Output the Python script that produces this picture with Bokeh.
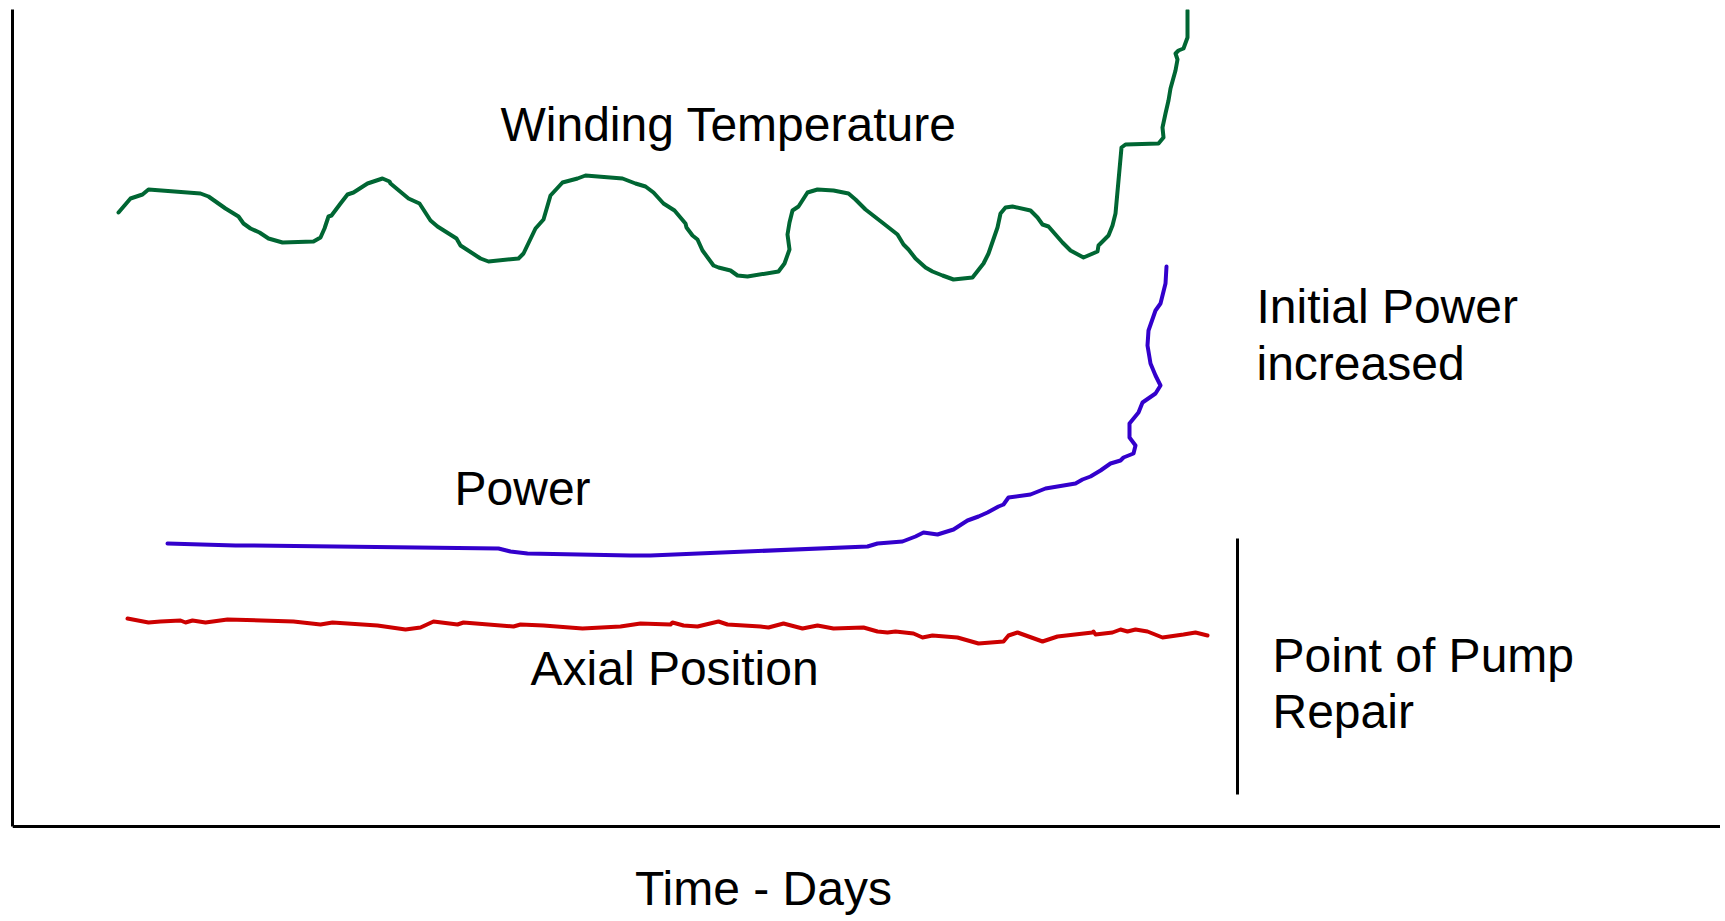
from bokeh.plotting import figure
from bokeh.models import Range1d, FixedTicker, ColumnDataSource
from bokeh.core.properties import value
from bokeh.embed import file_html
from bokeh.resources import INLINE

# ---- data (time units, signal units) ----
winding_t = [106, 118, 130, 136, 188, 196, 213, 226, 231, 238, 247, 256, 270, 301, 308, 312, 316, 319,
             328, 335, 341, 355, 370, 377, 378, 396, 407, 418, 425, 444, 448, 468, 476, 506, 511, 523,
             531, 538, 550, 565, 573, 610, 623, 633, 641, 651, 662, 673, 674, 680, 685, 690, 701, 706,
             718, 725, 735, 766, 772, 777, 775, 777, 780, 786, 795, 805, 821, 836, 843, 853, 871, 885,
             891, 896, 903, 913, 920, 930, 941, 960, 971, 976, 985, 988, 993, 1000, 1018, 1025, 1030,
             1036, 1050, 1058, 1071, 1085, 1086, 1096, 1100, 1103, 1106, 1109, 1113, 1146, 1151, 1150,
             1153, 1156, 1158, 1163, 1165, 1163, 1166, 1171, 1175, 1175]
winding_v = [614, 628, 632, 637, 633, 630, 618, 610, 603, 598, 594, 588, 584, 585, 589, 598, 610, 611,
             623, 632, 634, 643, 648, 645, 643, 628, 623, 606, 600, 588, 581, 568, 565, 568, 573, 598,
             607, 631, 644, 648, 651, 648, 643, 640, 634, 623, 616, 603, 599, 591, 587, 576, 561, 559,
             556, 551, 550, 555, 563, 577, 592, 604, 616, 620, 634, 637, 636, 633, 627, 617, 603, 592,
             582, 577, 568, 559, 555, 551, 547, 549, 563, 573, 599, 613, 619, 620, 616, 609, 602,
             600, 584, 576, 569, 575, 581, 591, 601, 613, 646, 679, 682, 683, 689, 699,
             713, 726, 738, 756, 767, 773, 776, 778, 789, 816]

power_t = [155, 223, 235, 486, 498, 515, 618, 638, 855, 865, 890, 903, 911, 925, 941, 955, 966, 975,
           986, 991, 996, 1018, 1033, 1063, 1070, 1078, 1088, 1098, 1108, 1111, 1121, 1123, 1117, 1117,
           1126, 1130, 1143, 1148, 1143, 1138, 1135, 1136, 1143, 1148, 1153, 1154]
power_v = [283, 281, 281, 278, 275, 273, 271, 271, 280, 283, 285, 290, 294, 292, 297, 306, 310, 314,
           320, 322, 329, 332, 338, 343, 347, 350, 356, 363, 366, 369, 373, 381, 389, 403,
           414, 424, 433, 441, 451, 463, 481, 496, 516, 523, 543, 560]

axial_t = [115, 136, 148, 168, 173, 180, 193, 215, 281, 308, 320, 365, 393, 408, 421, 445, 451, 501,
           508, 531, 570, 608, 628, 658, 660, 671, 685, 706, 715, 748, 756, 771, 790, 805, 821, 851,
           865, 875, 883, 901, 910, 920, 945, 966, 991, 996, 1005, 1030, 1045, 1080, 1081, 1083, 1100,
           1108, 1115, 1123, 1135, 1150, 1171, 1183, 1195]
axial_v = [208, 204, 205, 206, 204, 206, 204, 207, 205, 202, 204, 201, 197, 199, 205, 202, 204, 200,
           202, 201, 198, 200, 203, 202, 204, 201, 200, 205, 202, 200, 199, 203, 198, 201, 198, 199,
           195, 194, 195, 193, 189, 191, 189, 183, 185, 191, 194, 185, 190, 194, 195, 192, 194,
           197, 195, 197, 195, 189, 192, 194, 191]

repair_t = [1225, 1225]
repair_v = [32, 288]

label_text = ["Winding Temperature", "Power", "Axial Position", "Initial Power", "increased",
              "Point of Pump", "Repair", "Time - Days"]
label_t = [488, 442, 518, 1244, 1244, 1260, 1260, 751]
label_v = [702, 338, 158, 520, 463, 171, 115, -62]
label_align = ["left", "left", "left", "left", "left", "left", "left", "center"]

FONT = "Liberation Sans"

p = figure(width=1720, height=919, output_backend="svg", toolbar_location=None,
           x_range=Range1d(0, 1708), y_range=Range1d(-93, 817),
           min_border_left=12, min_border_right=0, min_border_top=9, min_border_bottom=0)
p.outline_line_color = None
p.grid.visible = False
p.background_fill_color = "white"
p.border_fill_color = "white"

for ax in (p.xaxis[0], p.yaxis[0]):
    ax.ticker = FixedTicker(ticks=[])
    ax.minor_tick_line_color = None
    ax.major_tick_line_color = None
    ax.major_tick_out = 0
    ax.major_tick_in = 0
    ax.minor_tick_out = 0
    ax.minor_tick_in = 0
    ax.major_label_text_font_size = "0px"
    ax.major_label_standoff = 0
    ax.axis_line_width = 3
    ax.axis_line_color = "black"
p.xaxis[0].fixed_location = 0
p.xaxis[0].bounds = (-1, 1708)
p.yaxis[0].bounds = (0, 817)

p.line(winding_t, winding_v, line_color="#006633", line_width=4, line_join="round", line_cap="round")
p.line(power_t, power_v, line_color="#3300CC", line_width=4, line_join="round", line_cap="round")
p.line(axial_t, axial_v, line_color="#CC0000", line_width=4, line_join="round", line_cap="round")
p.line(repair_t, repair_v, line_color="black", line_width=3)

src = ColumnDataSource(dict(x=label_t, y=label_v, text=label_text, align=label_align))
p.text(x="x", y="y", text="text", source=src, text_font=value(FONT), text_font_size="48px",
       text_color="black", text_align="align", text_baseline="alphabetic")

open("out.html", "w").write(file_html(p, INLINE))
